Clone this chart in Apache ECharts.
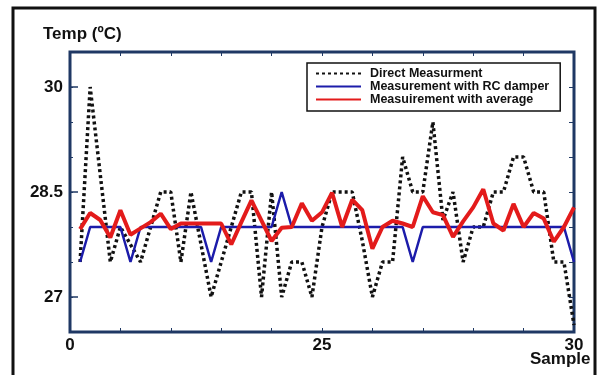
<!DOCTYPE html>
<html><head><meta charset="utf-8">
<script src="https://cdn.jsdelivr.net/npm/echarts@6/dist/echarts.min.js"></script>
<style>html,body{margin:0;padding:0;background:#fff}#c{width:601px;height:375px}</style>
</head><body><div id="c"></div>
<script>
const samples = [1,2,3,4,5,6,7,8,9,10,11,12,13,14,15,16,17,18,19,20,21,22,23,24,25,26,27,28,29,30,31,32,33,34,35,36,37,38,39,40,41,42,43,44,45,46,47,48,49,50];
const directMeasurement = [27.5,30,28.75,27.5,28.0,27.75,27.5,28.0,28.5,28.5,27.5,28.5,27.75,27.0,27.5,28.0,28.5,28.5,27.0,28.5,27.0,27.5,27.5,27.0,28.0,28.5,28.5,28.5,27.8,27.0,27.5,27.5,29.0,28.5,28.5,29.5,28.1,28.5,27.5,28.0,28.0,28.5,28.5,29.0,29.0,28.5,28.5,27.5,27.5,26.6];
const rcDamper = [27.5,28,28,28,28,27.5,28,28,28,28,28,28,28,27.5,28,28,28,28,28,28,28.5,28,28,28,28,28,28,28,28,28,28,28,28,27.5,28,28,28,28,28,28,28,28,28,28,28,28,28,28,28,27.5];
const averaged = [27.97,28.2,28.1,27.85,28.24,27.89,27.98,28.07,28.19,27.97,28.05,28.05,28.05,28.05,28.05,27.75,28.07,28.38,28.09,27.8,27.99,28.0,28.34,28.09,28.21,28.49,28.0,28.39,28.24,27.69,28.0,28.09,28.05,28.0,28.44,28.21,28.17,27.86,28.08,28.28,28.54,28.05,27.95,28.33,28.0,28.2,28.12,27.79,28.0,28.28];
const seriesNames = ['Direct Measurment','Measurement with RC damper','Measuirement with average'];
const xTickValues = [0,25,50];
const xTickLabels = ['0','25','30'];
const xMinorTickValues = [0,5,10,15,20,25,30,35,40,45,50];
const yTickValues = [27,28.5,30];
const yMinorTickValues = [27,27.5,28,28.5,29,29.5,30];
const yTitle = 'Temp (ºC)';
const xTitle = 'Sample';

const FONT = '"Liberation Sans", Arial, sans-serif';
const NAVY = '#1f3864';
const pairs = vals => samples.map((s, i) => [s, vals[i]]);

const chart = echarts.init(document.getElementById('c'), null, {renderer: 'canvas'});
const hidden = {show: false};
chart.setOption({
  animation: false,
  backgroundColor: '#fff',
  title: [
    {text: yTitle, left: 43, top: 26, padding: 0, textStyle: {fontFamily: FONT, fontWeight: 'bold', fontSize: 17, color: '#111'}},
    {text: xTitle, left: 530, top: 351, padding: 0, textStyle: {fontFamily: FONT, fontWeight: 'bold', fontSize: 17, color: '#111'}}
  ],
  grid: {left: 70, top: 52, width: 504, height: 280, show: true, borderColor: NAVY, borderWidth: 3, backgroundColor: 'transparent'},
  legend: {
    orient: 'vertical', left: 307, top: 63, itemWidth: 45, itemHeight: 12, itemGap: 0,
    padding: [4, 11, 5, 8], borderColor: '#111', borderWidth: 1.5, backgroundColor: '#fff',
    itemStyle: {opacity: 0},
    textStyle: {fontFamily: FONT, fontWeight: 'bold', fontSize: 12.5, color: '#111', padding: [0,0,0,4]},
    data: seriesNames
  },
  xAxis: [
    {type: 'value', position: 'bottom', min: 0, max: 50, interval: 5,
     axisLine: hidden, splitLine: hidden,
     axisTick: {show: true, inside: true, length: 4, customValues: xMinorTickValues, lineStyle: {color: NAVY, width: 1}},
     axisLabel: {show: true, customValues: xTickValues, margin: 5, fontFamily: FONT, fontWeight: 'bold', fontSize: 17, color: '#111',
       formatter: v => xTickLabels[xTickValues.indexOf(v)]}},
    {type: 'value', position: 'top', min: 0, max: 50, interval: 5,
     axisLine: hidden, splitLine: hidden, axisLabel: hidden,
     axisTick: {show: true, inside: true, length: 4, customValues: xMinorTickValues, lineStyle: {color: NAVY, width: 1}}}
  ],
  yAxis: [
    {type: 'value', position: 'left', min: 26.5, max: 30.5, interval: 0.5,
     axisLine: hidden, splitLine: hidden,
     axisTick: {show: true, inside: true, length: 8, customValues: yTickValues, lineStyle: {color: NAVY, width: 1.5}},
     axisLabel: {show: true, customValues: yTickValues, margin: 7, fontFamily: FONT, fontWeight: 'bold', fontSize: 17, color: '#111',
       formatter: v => String(v)}},
    {type: 'value', position: 'left', min: 26.5, max: 30.5, interval: 0.5,
     axisLine: hidden, splitLine: hidden, axisLabel: hidden,
     axisTick: {show: true, inside: true, length: 3, customValues: yMinorTickValues, lineStyle: {color: NAVY, width: 1}}},
    {type: 'value', position: 'right', min: 26.5, max: 30.5, interval: 0.5,
     axisLine: hidden, splitLine: hidden, axisLabel: hidden,
     axisTick: {show: true, inside: true, length: 5, customValues: yMinorTickValues, lineStyle: {color: NAVY, width: 1}}}
  ],
  series: [
    {name: seriesNames[0], type: 'line', data: pairs(directMeasurement), symbol: 'none', color: '#111',
     lineStyle: {color: '#111', width: 3.5, type: [3, 3], cap: 'butt'}},
    {name: seriesNames[1], type: 'line', data: pairs(rcDamper), symbol: 'none', color: '#1c1caa',
     lineStyle: {color: '#1c1caa', width: 2.5}},
    {name: seriesNames[2], type: 'line', data: pairs(averaged), symbol: 'none', color: '#e31b1b',
     lineStyle: {color: '#e31b1b', width: 4}}
  ],
  graphic: [
    {type: 'rect', silent: true, z: 100, shape: {x: 13, y: 8, width: 582, height: 380},
     style: {fill: 'none', stroke: '#111', lineWidth: 3}}
  ]
});
</script></body></html>
